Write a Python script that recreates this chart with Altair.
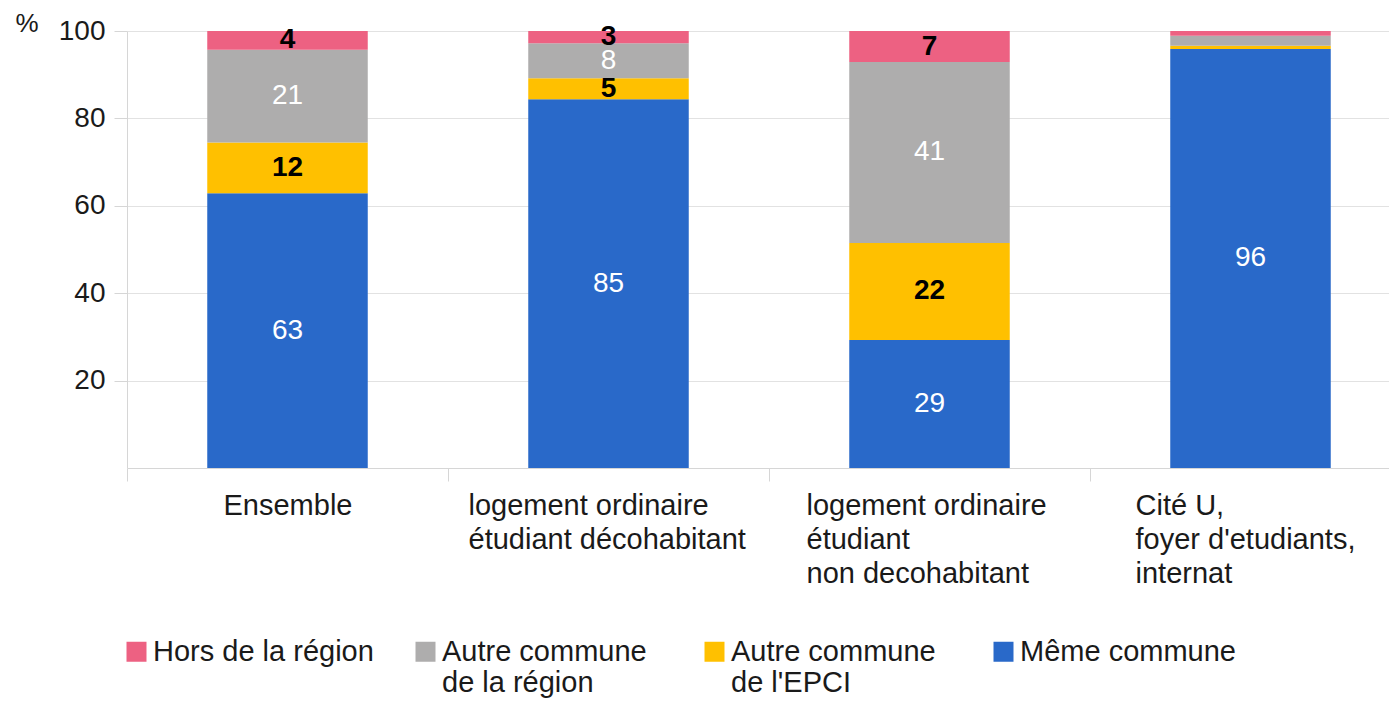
import altair as alt
import pandas as pd

# ---------------- data ----------------
categories = [
    "Ensemble",
    "logement ordinaire|étudiant décohabitant",
    "logement ordinaire|étudiant|non decohabitant",
    "Cité U,|foyer d'etudiants,|internat",
]
# stacking order: bottom -> top
series = [
    "Même commune",
    "Autre commune|de l'EPCI",
    "Autre commune|de la région",
    "Hors de la région",
]
values_meme = [62.9, 84.4, 29.3, 95.9]
values_epci = [11.6, 4.8, 22.2, 0.7]
values_region = [21.2, 8.0, 41.4, 2.3]
values_hors = [4.3, 2.8, 7.1, 1.1]

labels_meme = ["63", "85", "29", "96"]
labels_epci = ["12", "5", "22", ""]
labels_region = ["21", "8", "41", ""]
labels_hors = ["4", "3", "7", ""]

colors = ["#2969C9", "#FFC000", "#AEADAD", "#ED6182"]

legend_order = [series[3], series[2], series[1], series[0]]
legend_colors = [colors[3], colors[2], colors[1], colors[0]]

rows = []
for s_i, (s, vals, labs) in enumerate(
    zip(series,
        [values_meme, values_epci, values_region, values_hors],
        [labels_meme, labels_epci, labels_region, labels_hors])):
    for c, v, l in zip(categories, vals, labs):
        rows.append({"category": c, "series": s, "order": s_i, "value": v, "label": l})
df = pd.DataFrame(rows)

FONT = "Liberation Sans"
GRID = "#e2e2e2"
TICK = "#d6d6d6"

# left edge of each x-label block, relative to the band centre
label_left = [-64, -140, -123, -115]
frags = ["Ensemble", "décohabitant", "non decohabitant", "Cité"]
label_offset = {
    "condition": [
        {"test": f"indexof(datum.value, '{f}') >= 0", "value": o}
        for f, o in zip(frags, label_left)
    ],
    "value": 0,
}

x_scale = alt.Scale(range=[0, 1284], paddingInner=0, paddingOuter=0)
y_scale = alt.Scale(domain=[0, 100])

base = alt.Chart(df).transform_stack(
    stack="value",
    groupby=["category"],
    sort=[alt.SortField("order", order="ascending")],
    as_=["y0", "y1"],
).transform_calculate(mid="(datum.y0 + datum.y1) / 2")

bars = base.mark_bar(width=alt.RelativeBandSize(0.5)).encode(
    x=alt.X(
        "category:N",
        sort=categories,
        scale=x_scale,
        axis=alt.Axis(
            title=None,
            labelExpr="split(datum.label, '|')",
            labelAlign="left",
            labelBaseline="top",
            labelAngle=0,
            bandPosition=0,
            labelOffset=label_offset,
            labelFontSize=29,
            labelLineHeight=34,
            labelPadding=10,
            labelLimit=500,
            labelColor="#1a1a1a",
            labelFont=FONT,
            tickSize=13,
            tickColor=TICK,
            domainColor=TICK,
            grid=False,
            labelOverlap=False,
        ),
    ),
    y=alt.Y(
        "y0:Q",
        scale=y_scale,
        axis=alt.Axis(
            title="%",
            titleAngle=0,
            titleX=-112,
            titleY=-8,
            titleAlign="left",
            titleBaseline="middle",
            titleFontSize=26,
            titleFontWeight="normal",
            titleColor="#1a1a1a",
            titleFont=FONT,
            values=[20, 40, 60, 80, 100],
            labelFontSize=28,
            labelPadding=9,
            labelColor="#1a1a1a",
            labelFont=FONT,
            tickSize=13,
            tickColor=TICK,
            domainColor=TICK,
            gridColor=GRID,
        ),
    ),
    y2="y1:Q",
    color=alt.Color(
        "series:N",
        scale=alt.Scale(domain=legend_order, range=legend_colors),
        legend=alt.Legend(
            title=None,
            orient="none",
            legendX=-5,
            legendY=606,
            direction="horizontal",
            columns=4,
            gridAlign="all",
            columnPadding=37,
            symbolType="square",
            symbolSize=400,
            symbolStrokeWidth=0,
            symbolOpacity=1,
            labelFontSize=29,
            # every label is given two lines, so that all first lines sit
            # level with their swatches
            labelExpr="split(datum.label + (indexof(datum.label, '|') >= 0 ? '' : '|'), '|')",
            labelBaseline="middle",
            labelOffset=2,
            labelLimit=500,
            labelColor="#1a1a1a",
            labelFont=FONT,
            padding=0,
        ),
    ),
)

white_text = base.transform_filter(
    alt.FieldOneOfPredicate(field="series", oneOf=[series[0], series[2]])
).mark_text(color="white", fontSize=28, font=FONT).encode(
    x=alt.X("category:N", sort=categories),
    y=alt.Y("mid:Q", title="%"),
    text="label:N",
)

black_text = base.transform_filter(
    alt.FieldOneOfPredicate(field="series", oneOf=[series[1], series[3]])
).mark_text(color="black", fontSize=28, fontWeight="bold", font=FONT).encode(
    x=alt.X("category:N", sort=categories),
    y=alt.Y("mid:Q", title="%"),
    text="label:N",
)

chart = alt.layer(bars, white_text, black_text).properties(
    width=1262,
    height=437,
    autosize=alt.AutoSizeParams(type="none"),
    padding={"left": 119, "top": 23, "right": 0, "bottom": 230},
).configure(font=FONT).configure_view(stroke=None)

chart.save("out.html", embed_options={"renderer": "svg", "actions": False})
